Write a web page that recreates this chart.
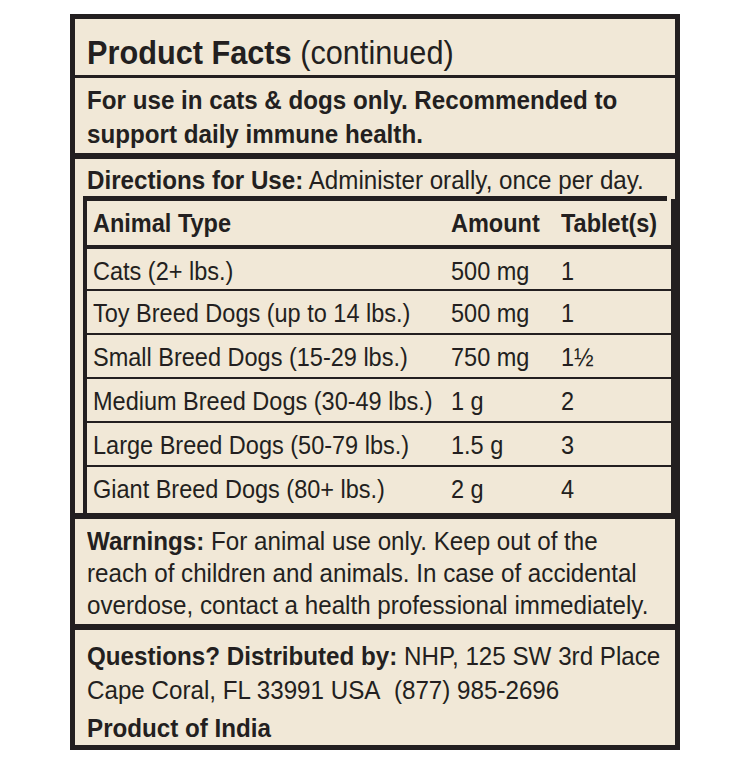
<!DOCTYPE html>
<html><head><meta charset="utf-8">
<script src="https://cdn.jsdelivr.net/npm/chart.js@4"></script>
<style>
body{margin:0;background:#fff;width:750px;height:759px;font-family:"Liberation Sans",sans-serif;color:#231f20}
#box{position:absolute;left:70px;top:14px;width:600px;height:726px;border:5px solid #231f20;background:#f1e8d7}
.t{position:absolute;white-space:nowrap;font-size:26px;line-height:30px;transform:scaleX(0.93);transform-origin:left top}
.b{font-weight:bold}
.hr{position:absolute;left:0;right:0;background:#231f20}
#tbl{position:absolute;left:8px;width:584px;top:180px;height:316px;border:4px solid #231f20;border-top:0;border-bottom:0}
.row{position:absolute;left:0;right:0;height:44px;border-top:2px solid #231f20}
.row span{position:absolute;top:8px;font-size:25px;white-space:nowrap;transform:scaleX(0.94);transform-origin:left top}
</style></head><body>
<div id="box">
  <div class="t" style="left:12px;top:16px;font-size:33px;line-height:36px"><b>Product Facts</b> (continued)</div>
  <div class="hr" style="top:56px;height:3px"></div>
  <div class="t b" style="left:12px;top:64px;line-height:34px">For use in cats &amp; dogs only. Recommended to<br>support daily immune health.</div>
  <div class="hr" style="top:134px;height:6px"></div>
  <div class="t" style="left:12px;top:146px"><b>Directions for Use:</b> Administer orally, once per day.</div>
  <div class="hr" style="top:177px;height:5px;left:8px;right:8px"></div>
  <div id="tbl"></div>
  <div class="hr" style="top:494px;height:6px"></div>
  <div class="t" style="left:12px;top:506px;line-height:32px"><b>Warnings:</b> For animal use only. Keep out of the<br>reach of children and animals. In case of accidental<br>overdose, contact a health professional immediately.</div>
  <div class="hr" style="top:605px;height:6px"></div>
  <div class="t" style="left:12px;top:620px;line-height:34px"><b>Questions? Distributed by:</b> NHP, 125 SW 3rd Place<br>Cape Coral, FL 33991 USA&nbsp; (877) 985-2696</div>
  <div class="t b" style="left:12px;top:694px">Product of India</div>
</div>
<script>
const headers = ["Animal Type", "Amount", "Tablet(s)"];
const animals = ["Cats (2+ lbs.)", "Toy Breed Dogs (up to 14 lbs.)", "Small Breed Dogs (15-29 lbs.)",
  "Medium Breed Dogs (30-49 lbs.)", "Large Breed Dogs (50-79 lbs.)", "Giant Breed Dogs (80+ lbs.)"];
const amounts = ["500 mg", "500 mg", "750 mg", "1 g", "1.5 g", "2 g"];
const tablets = ["1", "1", "1½", "2", "3", "4"];

const tbl = document.getElementById("tbl");
const colX = [6, 364, 474];
function addRow(cells, top, bold, border) {
  const r = document.createElement("div");
  r.className = "row";
  r.style.top = top + "px";
  r.style.borderTopWidth = border + "px";
  if (top === 2) r.style.borderTop = "0";
  cells.forEach((c, i) => {
    const s = document.createElement("span");
    s.textContent = c;
    s.style.left = colX[i] + "px";
    if (bold) s.style.fontWeight = "bold";
    r.appendChild(s);
  });
  tbl.appendChild(r);
}
addRow(headers, 2, true, 0);
animals.forEach((a, i) => addRow([a, amounts[i], tablets[i]], 46 + i * 44, false, i === 0 ? 4 : 2));
</script>
</body></html>
